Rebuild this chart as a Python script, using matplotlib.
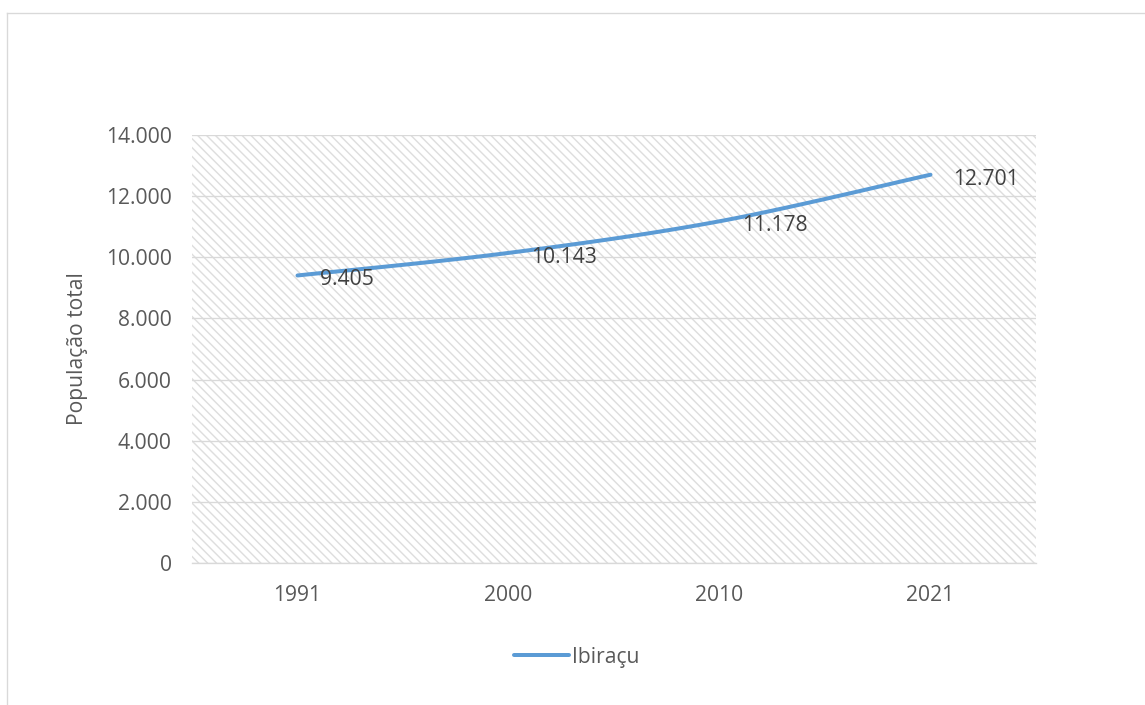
import numpy as np
import matplotlib
matplotlib.use("Agg")
import matplotlib.pyplot as plt
from matplotlib.lines import Line2D
from matplotlib.ticker import FuncFormatter, MultipleLocator

years = ["1991", "2000", "2010", "2021"]
population = [9405, 10143, 11178, 12701]
series_name = "Ibiraçu"
y_label = "População total"

DPI = 80
plt.rcParams["font.family"] = ["Open Sans", "DejaVu Sans"]
plt.rcParams["hatch.color"] = "#dedede"
plt.rcParams["hatch.linewidth"] = 1.3

LINE_COLOR = "#5b9bd5"
GRID_COLOR = "#d9d9d9"
TICK_COLOR = "#595959"
LABEL_COLOR = "#404040"
FS = 19


def fmt_thousands(v):
    return f"{int(round(v)):,}".replace(",", ".")


def smooth_curve(xs, ys, steps=40):
    # Catmull-Rom style cubic Bezier through every point
    pts = np.column_stack([xs, ys]).astype(float)
    n = len(pts)
    out = [pts[0]]
    t = np.linspace(0, 1, steps)[1:, None]
    for i in range(n - 1):
        p0 = pts[max(i - 1, 0)]
        p1 = pts[i]
        p2 = pts[i + 1]
        p3 = pts[min(i + 2, n - 1)]
        c1 = p1 + (p2 - p0) / 6.0
        c2 = p2 - (p3 - p1) / 6.0
        seg = ((1 - t) ** 3) * p1 + 3 * ((1 - t) ** 2) * t * c1 \
            + 3 * (1 - t) * t ** 2 * c2 + t ** 3 * p2
        out.extend(seg)
    out = np.array(out)
    return out[:, 0], out[:, 1]


fig = plt.figure(figsize=(1145 / DPI, 705 / DPI), dpi=DPI)
ax = fig.add_axes([192 / 1145, 1 - 563 / 705, (1036 - 192) / 1145, (563 - 135) / 705])

x = np.arange(len(years))
ax.set_xlim(-0.5, len(years) - 0.5)
ax.set_ylim(0, 14000)

# patterned plot area
ax.patch.set_facecolor("white")
ax.patch.set_hatch("\\\\\\")
ax.patch.set_edgecolor("#dedede")
ax.patch.set_linewidth(0)

ax.yaxis.set_major_locator(MultipleLocator(2000))
ax.yaxis.set_major_formatter(FuncFormatter(lambda v, p: fmt_thousands(v)))
ax.grid(axis="y", color=GRID_COLOR, linewidth=1.2)
ax.set_axisbelow(True)

for side in ["left", "right", "top"]:
    ax.spines[side].set_visible(False)
ax.spines["bottom"].set_color(GRID_COLOR)
ax.spines["bottom"].set_linewidth(1.2)

ax.set_xticks(x)
ax.set_xticklabels(years)
ax.tick_params(axis="x", length=0, pad=20, labelsize=FS, labelcolor=TICK_COLOR)
ax.tick_params(axis="y", length=0, pad=18, labelsize=FS, labelcolor=TICK_COLOR)

ax.set_ylabel(y_label, fontsize=FS, color=TICK_COLOR)
ax.yaxis.set_label_coords(-0.123, 0.5)

sx, sy = smooth_curve(x, population)
ax.plot(sx, sy, color=LINE_COLOR, linewidth=3.6, solid_capstyle="round",
        label=series_name, zorder=3)

for xi, yi in zip(x, population):
    ax.annotate(fmt_thousands(yi), (xi, yi), xytext=(20, -4),
                textcoords="offset points", ha="left", va="center",
                fontsize=FS, color=LABEL_COLOR, zorder=4)

fig.legend(handles=[Line2D([], [], color=LINE_COLOR, linewidth=3.6,
                           solid_capstyle="round")],
           labels=[series_name], loc="center",
           bbox_to_anchor=(577 / 1145, 1 - 657 / 705), frameon=False,
           fontsize=FS, labelcolor=TICK_COLOR, handlelength=2.6,
           handletextpad=0.15)

# outer frame (top and left edges)
fig.add_artist(Line2D([7 / 1145, 1], [1 - 13 / 705, 1 - 13 / 705],
                      transform=fig.transFigure, color=GRID_COLOR, linewidth=1.2))
fig.add_artist(Line2D([7 / 1145, 7 / 1145], [0, 1 - 13 / 705],
                      transform=fig.transFigure, color=GRID_COLOR, linewidth=1.2))

fig.savefig("out.png", dpi=DPI, facecolor="white")
